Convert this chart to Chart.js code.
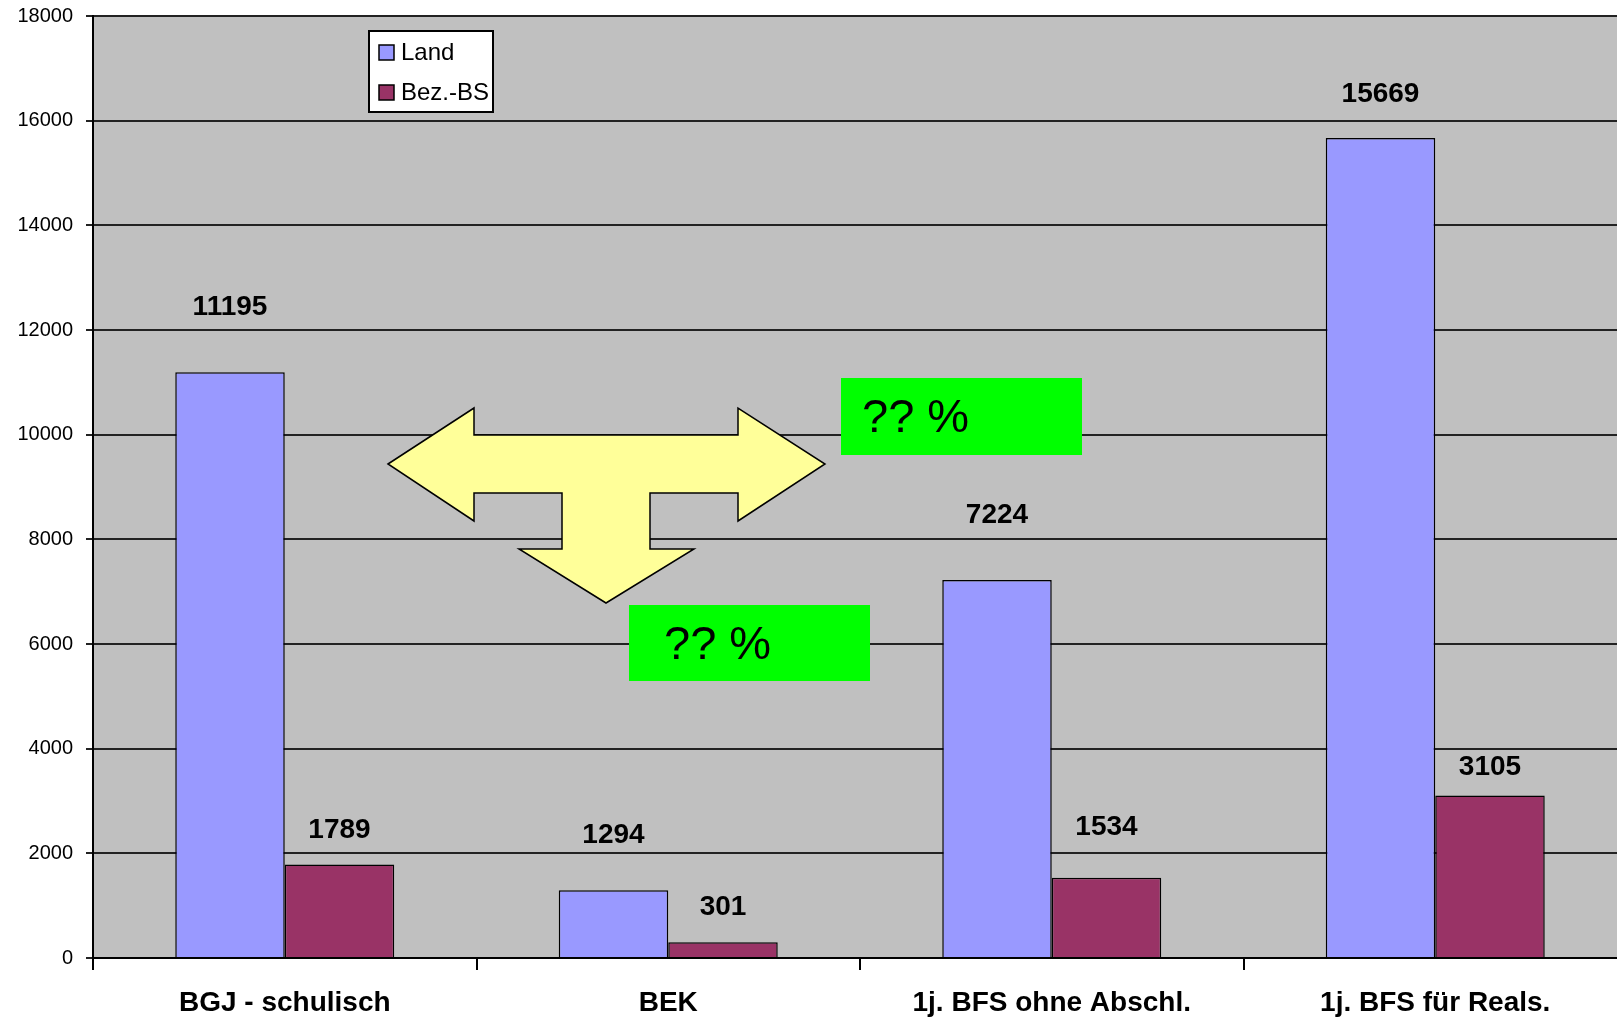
<!DOCTYPE html>
<html>
<head>
<meta charset="utf-8">
<script src="https://cdn.jsdelivr.net/npm/chart.js@4.4.0/dist/chart.umd.min.js"></script>
<style>
html, body { margin: 0; padding: 0; background: #fff; overflow: hidden; }
#wrap { width: 1617px; height: 1023px; overflow: hidden; }
canvas { display: block; }
</style>
</head>
<body>
<div id="wrap"><canvas id="chart" width="1627" height="1023" style="width:1627px;height:1023px"></canvas></div>
<script>
var categories = ["BGJ - schulisch", "BEK", "1j. BFS ohne Abschl.", "1j. BFS für Reals."];
var landValues = [11195, 1294, 7224, 15669];
var bezValues = [1789, 301, 1534, 3105];
var yTicks = [0, 2000, 4000, 6000, 8000, 10000, 12000, 14000, 16000, 18000];

// value labels were nudged by hand in the original, lift above bar top in px
var landLift = [65, 55, 65, 44];
var bezLift = [34, 35, 50, 28];

var FONT = '"Liberation Sans", Arial, sans-serif';

// grey plot background
var plotBg = {
    id: 'plotBg',
    beforeDraw: function(chart) {
        var a = chart.chartArea, ctx = chart.ctx;
        ctx.save();
        ctx.fillStyle = '#C0C0C0';
        ctx.fillRect(a.left, a.top, a.right - a.left, a.bottom - a.top);
        ctx.restore();
    }
};

// the yellow T arrow and the two green "?? %" boxes
var overlay = {
    id: 'overlay',
    afterDatasetsDraw: function(chart) {
        var ctx = chart.ctx;
        var pts = [[388,464],[474,408],[474,435],[738,435],[738,408],[825,464],[738,521],[738,493],
                   [650,493],[650,549],[694,549],[606,603],[519,549],[562,549],[562,493],[474,493],[474,521]];
        ctx.save();
        ctx.beginPath();
        ctx.moveTo(pts[0][0], pts[0][1]);
        for (var i = 1; i < pts.length; i++) ctx.lineTo(pts[i][0], pts[i][1]);
        ctx.closePath();
        ctx.fillStyle = '#FFFF99';
        ctx.fill();
        ctx.lineWidth = 1.5;
        ctx.strokeStyle = '#000';
        ctx.stroke();

        ctx.fillStyle = '#00FF00';
        ctx.fillRect(841, 378, 241, 77);
        ctx.fillRect(629, 605, 241, 76);
        ctx.fillStyle = '#000';
        ctx.font = '47px ' + FONT;
        ctx.textAlign = 'left';
        ctx.textBaseline = 'middle';
        ctx.fillText('?? %', 862, 419);
        ctx.fillText('?? %', 664, 646);
        ctx.restore();
    }
};

// value labels above the bars
var valueLabels = {
    id: 'valueLabels',
    afterDatasetsDraw: function(chart) {
        var ctx = chart.ctx;
        ctx.save();
        ctx.font = 'bold 28px ' + FONT;
        ctx.fillStyle = '#000';
        ctx.textAlign = 'center';
        ctx.textBaseline = 'middle';
        chart.data.datasets.forEach(function(ds, i) {
            chart.getDatasetMeta(i).data.forEach(function(bar, j) {
                ctx.fillText(String(ds.data[j]), bar.x, bar.y - ds.labelLift[j]);
            });
        });
        ctx.restore();
    }
};

// boxed legend inside the plot, top left
var boxLegend = {
    id: 'boxLegend',
    afterDraw: function(chart) {
        var ctx = chart.ctx, a = chart.chartArea;
        var x = a.left + 276, y = a.top + 15;
        ctx.save();
        ctx.fillStyle = '#fff';
        ctx.fillRect(x, y, 124, 81);
        ctx.lineWidth = 2;
        ctx.strokeStyle = '#000';
        ctx.strokeRect(x, y, 124, 81);
        ctx.font = '24px ' + FONT;
        ctx.textAlign = 'left';
        ctx.textBaseline = 'middle';
        chart.data.datasets.forEach(function(ds, i) {
            var cy = y + 21 + i * 40;
            ctx.fillStyle = ds.backgroundColor;
            ctx.fillRect(x + 10, cy - 7, 15, 15);
            ctx.lineWidth = 1.5;
            ctx.strokeRect(x + 10, cy - 7, 15, 15);
            ctx.fillStyle = '#000';
            ctx.fillText(ds.label, x + 32, cy + 1);
        });
        ctx.restore();
    }
};

new Chart(document.getElementById('chart'), {
    type: 'bar',
    data: {
        labels: categories,
        datasets: [
            {
                label: 'Land',
                data: landValues,
                labelLift: landLift,
                backgroundColor: '#9999FF',
                borderColor: '#000',
                borderWidth: 1.5
            },
            {
                label: 'Bez.-BS',
                data: bezValues,
                labelLift: bezLift,
                backgroundColor: '#993366',
                borderColor: '#000',
                borderWidth: 1.5
            }
        ]
    },
    plugins: [plotBg, overlay, valueLabels, boxLegend],
    options: {
        responsive: false,
        animation: false,
        devicePixelRatio: 1,
        layout: { padding: { top: 16, right: 0, left: 0, bottom: 0 } },
        datasets: { bar: { categoryPercentage: 0.571, barPercentage: 1.0 } },
        plugins: {
            legend: { display: false },
            tooltip: { enabled: false }
        },
        scales: {
            x: {
                afterFit: function(s) { s.height = 65; s.paddingLeft = 0; s.paddingRight = 0; },
                grid: { offset: true, drawOnChartArea: false, drawTicks: true, tickLength: 12, color: '#000', lineWidth: 2 },
                border: { color: '#000', width: 2 },
                ticks: { color: '#000', padding: 16, font: { family: FONT, size: 28, weight: 'bold' } }
            },
            y: {
                min: 0,
                max: 18000,
                afterFit: function(s) { s.width = 93; s.paddingTop = 0; s.paddingBottom = 0; },
                afterBuildTicks: function(s) { s.ticks = yTicks.map(function(v) { return { value: v }; }); },
                grid: { color: '#222', lineWidth: 2, tickLength: 7 },
                border: { color: '#000', width: 2 },
                ticks: {
                    color: '#000',
                    padding: 13,
                    font: { family: FONT, size: 20 },
                    callback: function(v) { return String(v); }
                }
            }
        }
    }
});
</script>
</body>
</html>
